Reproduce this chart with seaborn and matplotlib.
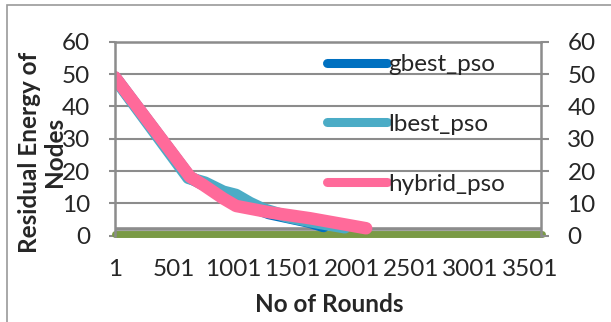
import matplotlib
matplotlib.use("Agg")
import matplotlib.pyplot as plt
from matplotlib.lines import Line2D
from matplotlib.patches import Rectangle
import seaborn as sns
import pandas as pd

# Residual energy per round for each PSO variant
gbest_rounds = [1, 634, 1000, 1300, 1646, 1760]
gbest_energy = [48.9, 18.0, 11.2, 7.0, 4.3, 3.0]

lbest_rounds = [1, 620, 760, 915, 1022, 1140, 1250, 1450, 1646, 1940]
lbest_energy = [48.7, 17.9, 16.4, 13.6, 12.6, 10.1, 8.2, 6.0, 4.5, 2.6]

hybrid_rounds = [1, 634, 746, 915, 1022, 1308, 1646, 2120]
hybrid_energy = [49.0, 18.2, 15.7, 11.5, 9.2, 7.2, 5.4, 2.3]

# Flat reference series across the full run
flat_rounds = [1, 3600]
flat_gray = [2.05, 2.05]
flat_green = [0.45, 0.45]

x_ticks = [1, 501, 1001, 1501, 2001, 2501, 3001, 3501]
y_ticks = [0, 10, 20, 30, 40, 50, 60]

series_names = ["gbest_pso", "lbest_pso", "hybrid_pso"]
series_colors = ["#0070C0", "#4BACC6", "#FF6A9A"]

sns.set_style("white")
plt.rcParams["font.family"] = ["Lato", "DejaVu Sans"]

FS = 17.5

fig = plt.figure(figsize=(6.11, 3.22), dpi=100)
ax = fig.add_axes([115 / 611, 1 - 235.7 / 322, 426 / 611, 194 / 322])

grid_col = "#8C8C8C"
for v in y_ticks[1:]:
    ax.axhline(v, color=grid_col, lw=1.5, zorder=1)

sns.lineplot(x=flat_rounds, y=flat_gray, ax=ax, color="#8C8C8C", lw=2.6, zorder=2)
sns.lineplot(x=flat_rounds, y=flat_green, ax=ax, color="#7A9A45", lw=5.0, zorder=3,
             clip_on=False)

df = pd.concat([
    pd.DataFrame({"round": gbest_rounds, "energy": gbest_energy, "series": series_names[0]}),
    pd.DataFrame({"round": lbest_rounds, "energy": lbest_energy, "series": series_names[1]}),
    pd.DataFrame({"round": hybrid_rounds, "energy": hybrid_energy, "series": series_names[2]}),
])
for name, col, z in zip(series_names, series_colors, [4, 5, 6]):
    sub = df[df["series"] == name]
    sns.lineplot(data=sub, x="round", y="energy", ax=ax, color=col, lw=9.0, zorder=z,
                 solid_capstyle="round", solid_joinstyle="round")

ax.set_xlim(1, 3595)
ax.set_ylim(0, 60)
ax.set_xticks(x_ticks)
ax.set_xticklabels([str(t) for t in x_ticks], fontsize=FS)
ax.set_yticks(y_ticks)
ax.set_yticklabels([str(t) for t in y_ticks], fontsize=FS)
ax.tick_params(axis="x", length=0, pad=17)
ax.tick_params(axis="y", length=4, width=1.5, color=grid_col, pad=14, direction="out", left=True)

for side in ["top", "left", "right"]:
    ax.spines[side].set_color(grid_col)
    ax.spines[side].set_linewidth(1.8)
    ax.spines[side].set_zorder(7)
ax.spines["bottom"].set_visible(False)
ax.set_xlabel("")
ax.set_ylabel("")

ax2 = ax.twinx()
ax2.set_ylim(0, 60)
ax2.set_yticks(y_ticks)
ax2.set_yticklabels([str(t) for t in y_ticks], fontsize=FS)
ax2.tick_params(axis="y", length=6, width=1.5, color=grid_col, pad=13, direction="out", right=True)
for s in ax2.spines.values():
    s.set_visible(False)

handles = [Line2D([0], [0], color=c, lw=6.5, solid_capstyle="round") for c in series_colors]
ax.legend(handles, series_names, loc="upper left", bbox_to_anchor=(327 / 611, 1 - 54 / 322),
          bbox_transform=fig.transFigure, frameon=False, fontsize=FS, handlelength=2.45,
          handletextpad=0.05, labelspacing=1.6, borderpad=0, borderaxespad=0)

fig.text(329 / 611, 1 - 305 / 322, "No of Rounds", fontsize=FS, fontweight="bold",
         ha="center", va="center")
fig.text(42 / 611, 1 - 152 / 322, "Residual Energy of\nNodes", fontsize=FS, fontweight="bold",
         ha="center", va="center", rotation=90, multialignment="center", linespacing=1.1)

fig.patches.append(Rectangle((7 / 611, -0.1), 1.2, 1 - 5 / 322 + 0.1, transform=fig.transFigure,
                             fill=False, edgecolor="#9A9A9A", lw=1.2))

fig.savefig("out.png", dpi=100)
